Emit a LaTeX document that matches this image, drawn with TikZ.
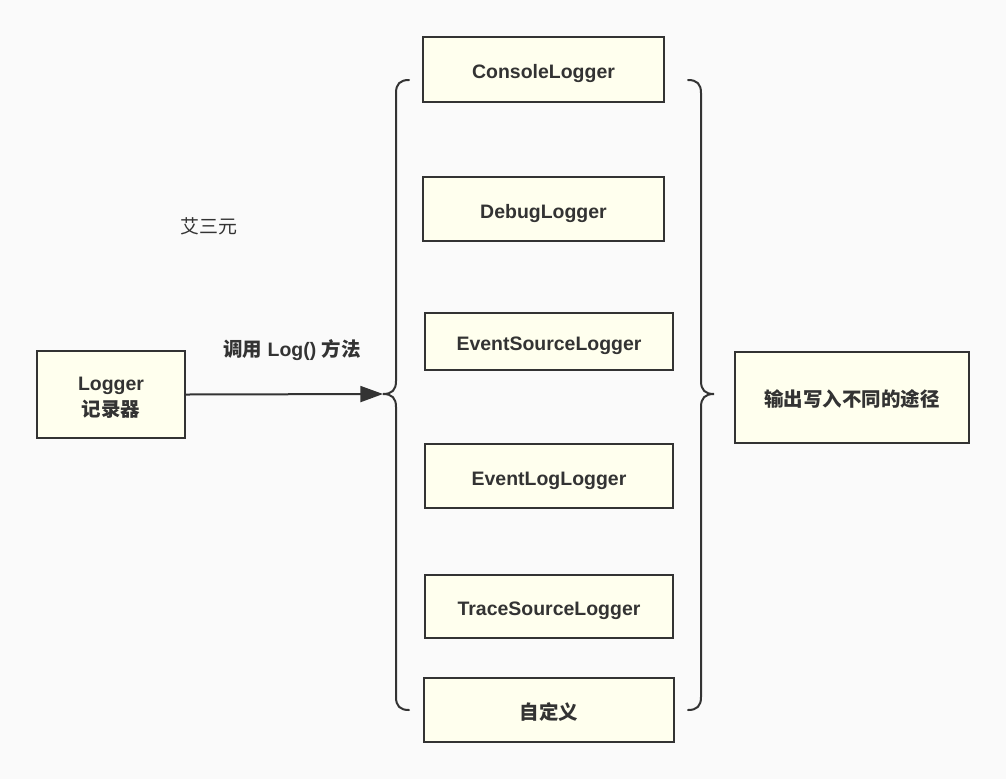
\documentclass[tikz,border=0pt]{standalone}
\usepackage{fontspec}
\setmainfont{Liberation Sans}
\newfontfamily\cjk{Noto Sans CJK SC}
\usetikzlibrary{arrows.meta}
\definecolor{bg}{HTML}{FAFAFA}
\definecolor{boxfill}{HTML}{FFFFEE}
\definecolor{ink}{HTML}{333333}
\tikzset{
  box/.style={draw=ink, fill=boxfill, line width=1.5pt, inner sep=0pt, text=ink,
    font=\fontsize{14.6}{19}\selectfont\bfseries, align=center,
    text height=14.2pt, text depth=0pt},
  twoline/.style={text height=, text depth=},
  brace/.style={draw=ink, line width=1.5pt, line cap=round},
  conn/.style={draw=ink, line width=1.5pt, -{Triangle[length=17pt,width=12pt]}},
}
\begin{document}
\begin{tikzpicture}[x=0.75pt,y=-0.75pt]
\useasboundingbox (0,0) rectangle (1006,779);
\fill[bg] (0,0) rectangle (1006,779);

\node[box, twoline, minimum width=111pt, minimum height=65.25pt] (logger) at (111,394.5) {\rule{0pt}{15pt}Logger\\{\cjk\bfseries 记录器}};
\node[box, minimum width=180.75pt, minimum height=48.75pt] (console) at (543.5,69.5) {ConsoleLogger};
\node[box, minimum width=180.75pt, minimum height=48pt] (debug) at (543.5,209) {DebugLogger};
\node[box, minimum width=186pt, minimum height=42.75pt] (evsrc) at (549,341.5) {EventSourceLogger};
\node[box, minimum width=186pt, minimum height=48pt] (evlog) at (549,476) {EventLogLogger};
\node[box, minimum width=186pt, minimum height=47.25pt] (trace) at (549,606.5) {TraceSourceLogger};
\node[box, minimum width=187.5pt, minimum height=48pt] (custom) at (549,710) {{\cjk\bfseries 自定义}};
\node[box, minimum width=175.5pt, minimum height=68.25pt] (out) at (852,397.5) {{\cjk\bfseries 输出写入不同的途径}};

\node[text=ink, font=\fontsize{14.6}{16}\selectfont\bfseries] (lbl) at (292,350) {{\cjk\bfseries 调用} Log() {\cjk\bfseries 方法}};
\node[text=ink, font=\fontsize{14.2}{16}\selectfont] (author) at (209,226) {{\cjk 艾三元}};

% left brace
\coordinate (ltip) at (383,394);
\path[brace] (409,80) .. controls (400,80) and (396,84) .. (396,93) -- (396,381)
  .. controls (396,390) and (392,394) .. (ltip)
  .. controls (392,394) and (396,398) .. (396,407) -- (396,697)
  .. controls (396,706) and (400,710) .. (409,710);
% right brace
\coordinate (rtip) at (714,394);
\path[brace] (688,80) .. controls (697,80) and (701,84) .. (701,93) -- (701,381)
  .. controls (701,390) and (705,394) .. (rtip)
  .. controls (705,394) and (701,398) .. (701,407) -- (701,697)
  .. controls (701,706) and (697,710) .. (688,710);

\draw[conn] (logger.east) -- (ltip);
\end{tikzpicture}
\end{document}
